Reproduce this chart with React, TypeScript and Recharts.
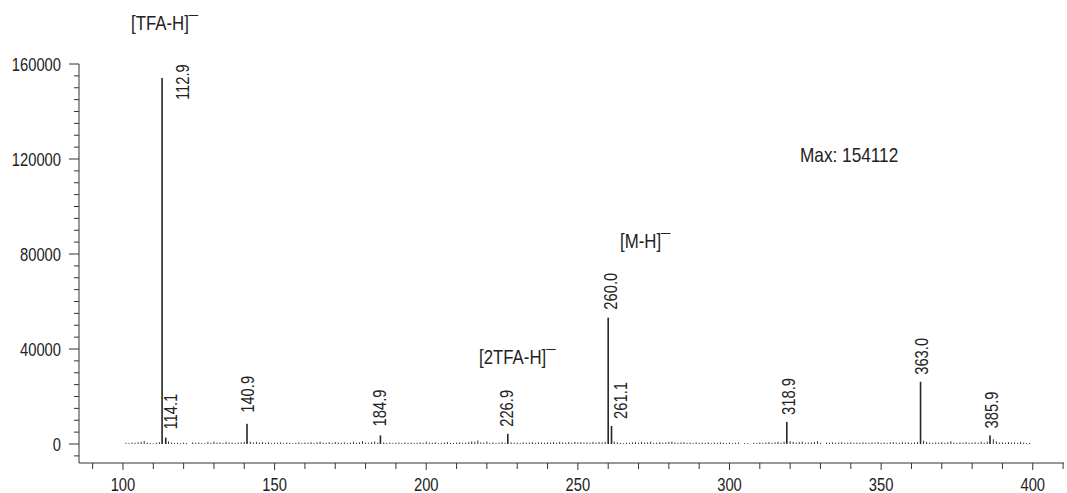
import { Bar, BarChart, Customized, LabelList, XAxis, YAxis } from 'recharts';

// labelled peaks (m/z, intensity)
const peakMz = [112.9, 114.1, 140.9, 184.9, 226.9, 260.0, 261.1, 318.9, 363.0, 385.9];
const peakIntensity = [154112, 2700, 8500, 3600, 4300, 53200, 7600, 9300, 26200, 3600];

// baseline noise, one stick per unit from m/z 101
const noiseStartMz = 101;
const noiseIntensity = [
  500, 400, 600, 500, 700, 900, 1300, 600, 400, 300,
  500, 800, 0, 0, 1100, 600, 400, 500, 300, 600,
  400, 0, 700, 500, 600, 400, 300, 800, 500, 1000,
  600, 700, 400, 900, 600, 500, 400, 600, 700, 900,
  0, 1000, 700, 900, 600, 800, 500, 700, 400, 600,
  500, 700, 400, 600, 500, 300, 500, 700, 400, 600,
  500, 800, 400, 700, 1000, 600, 500, 700, 400, 800,
  600, 500, 700, 400, 600, 900, 500, 700, 1200, 600,
  500, 800, 1000, 600, 0, 700, 500, 600, 400, 500,
  600, 400, 700, 500, 600, 400, 500, 700, 500, 1000,
  600, 500, 700, 400, 500, 600, 800, 500, 400, 600,
  700, 500, 600, 800, 1100, 900, 1500, 700, 600, 1000,
  500, 700, 400, 600, 800, 500, 0, 700, 500, 600,
  400, 700, 500, 600, 800, 500, 700, 600, 500, 700,
  600, 800, 500, 900, 700, 600, 800, 500, 900, 700,
  800, 600, 700, 500, 900, 600, 800, 700, 900, 0,
  0, 1000, 700, 500, 400, 600, 500, 700, 800, 500,
  900, 600, 700, 1000, 500, 600, 800, 500, 700, 900,
  1000, 600, 500, 700, 800, 500, 600, 400, 700, 500,
  600, 500, 700, 400, 600, 500, 700, 500, 400, 600,
  300, 500, 600, 0, 400, 300, 0, 500, 400, 700,
  500, 600, 800, 500, 700, 900, 600, 1000, 0, 1200,
  900, 600, 800, 1000, 500, 600, 700, 900, 1200, 500,
  0, 600, 500, 700, 500, 600, 800, 500, 600, 700,
  500, 600, 500, 700, 600, 500, 700, 600, 800, 500,
  600, 500, 700, 800, 600, 500, 900, 600, 700, 500,
  600, 800, 0, 1400, 900, 600, 500, 700, 600, 800,
  500, 700, 1200, 600, 500, 700, 600, 800, 500, 600,
  700, 500, 900, 600, 1000, 0, 2000, 1100, 600, 700,
  500, 800, 600, 700, 500, 900, 600, 400, 500, 0,
];

const xTickLabels = [100, 150, 200, 250, 300, 350, 400];
const xMinorStep = 10;
const yTickLabels = [0, 40000, 80000, 120000, 160000];
const yMinorStep = 5000;

const FONT = "'Liberation Sans', Arial, sans-serif";
const INK = '#222';
// squeeze factor that gives the sans face a condensed look
const NARROW = 0.82;

type Stick = { mz: number; intensity: number; label?: string };

const data: Stick[] = [
  ...noiseIntensity.map((v, i) => ({ mz: noiseStartMz + i, intensity: v })),
  ...peakMz.map((mz, i) => ({ mz, intensity: peakIntensity[i], label: mz.toFixed(1) })),
];

const xTicks: number[] = [];
for (let t = 90; t <= 410; t += xMinorStep) xTicks.push(t);
const yTicks: number[] = [];
for (let t = -5000; t <= 160000; t += yMinorStep) yTicks.push(t);

// where each rotated peak label sits: [shift right, shift down] from the stick top
const labelPlace: Record<string, [number, number]> = {
  '112.9': [20, 22],
  '114.1': [5, -8],
  '140.9': [1, -11],
  '184.9': [-1, -9],
  '226.9': [-1, -7],
  '260.0': [2, -8],
  '261.1': [9, -7],
  '318.9': [2, -7],
  '363.0': [1, -7],
  '385.9': [2, -7],
};

type NarrowProps = {
  x: number;
  y: number;
  size: number;
  anchor?: 'start' | 'middle' | 'end';
  rotate?: number;
  children: React.ReactNode;
};

const NarrowText = ({ x, y, size, anchor = 'start', rotate = 0, children }: NarrowProps) => (
  <text
    transform={`translate(${x},${y}) rotate(${rotate}) scale(${NARROW},1)`}
    textAnchor={anchor}
    fontSize={size}
    fontFamily={FONT}
    fill={INK}
  >
    {children}
  </text>
);

const StickShape = (props: any) => {
  const { x, y, width, height, payload } = props;
  if (!height || height <= 0) return null;
  const cx = x + width / 2;
  const w = payload.label ? 1.6 : 1;
  return <rect x={cx - w / 2} y={y} width={w} height={height} fill={payload.label ? '#262626' : '#333'} />;
};

const PeakLabel = (props: any) => {
  const { x, y, width, value } = props;
  if (!value) return null;
  const [dx, dy] = labelPlace[value] ?? [0, -8];
  const cx = x + width / 2 + dx;
  return (
    <NarrowText x={cx + 6.5} y={y + dy} size={18} rotate={-90}>
      {value}
    </NarrowText>
  );
};

const YTick = ({ x, y, payload }: any) => {
  const major = yTickLabels.includes(payload.value);
  return (
    <g>
      <line x1={x - (major ? 10 : 5)} x2={x} y1={y} y2={y} stroke="#333" />
      {major && (
        <NarrowText x={x - 18} y={y + 6.5} size={18} anchor="end">
          {payload.value}
        </NarrowText>
      )}
    </g>
  );
};

const XTick = ({ x, y, payload }: any) => {
  const major = xTickLabels.includes(payload.value);
  return (
    <g>
      <line x1={x} x2={x} y1={y} y2={y + (major ? 7 : 6)} stroke="#333" />
      {major && (
        <NarrowText x={x} y={y + 28} size={18} anchor="middle">
          {payload.value}
        </NarrowText>
      )}
    </g>
  );
};

const IonNote = ({ x, y, text }: { x: number; y: number; text: string }) => (
  <NarrowText x={x} y={y} size={20.5}>
    {text}
    <tspan>¯</tspan>
  </NarrowText>
);

const Notes = () => (
  <g>
    <IonNote x={131} y={30} text="[TFA-H]" />
    <IonNote x={620} y={248} text="[M-H]" />
    <IonNote x={479} y={364} text="[2TFA-H]" />
    <NarrowText x={800} y={162} size={21}>
      {`Max: ${Math.max(...peakIntensity)}`}
    </NarrowText>
  </g>
);

function App() {
  return (
    <div style={{ position: 'absolute', left: 0, top: 0, background: '#fff' }}>
      <BarChart
        width={1067}
        height={493}
        data={data}
        margin={{ top: 64, right: 3, bottom: 0, left: 0 }}
        barSize={2}
      >
        <XAxis
          type="number"
          dataKey="mz"
          domain={[85.5, 410.3]}
          allowDataOverflow
          ticks={xTicks}
          interval={0}
          tickSize={0}
          tickMargin={0}
          tick={<XTick />}
          height={30}
          axisLine={{ stroke: '#333' }}
          tickLine={false}
        />
        <YAxis
          type="number"
          domain={[-8000, 160000]}
          allowDataOverflow
          ticks={yTicks}
          interval={0}
          tickSize={0}
          tickMargin={0}
          tick={<YTick />}
          width={79}
          axisLine={{ stroke: '#333' }}
          tickLine={false}
        />
        <Bar dataKey="intensity" shape={<StickShape />} isAnimationActive={false}>
          <LabelList dataKey="label" content={<PeakLabel />} />
        </Bar>
        <Customized component={<Notes />} />
      </BarChart>
    </div>
  );
}

export default App;
